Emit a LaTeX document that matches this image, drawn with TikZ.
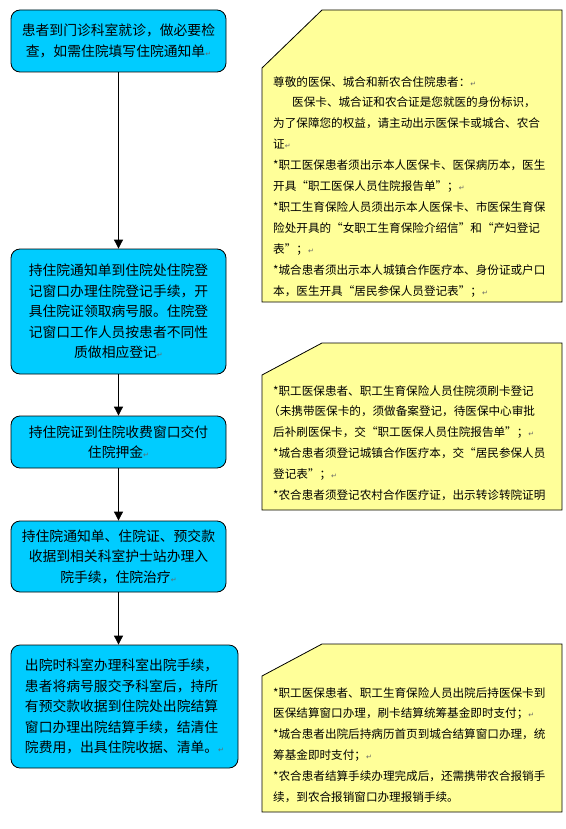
\documentclass[tikz,border=0pt]{standalone}
\usepackage{fontspec}
\setmainfont{Noto Sans CJK SC}
\newfontfamily\dejavu{DejaVu Sans}
\usetikzlibrary{arrows.meta}
\definecolor{boxcyan}{HTML}{00CCFF}
\definecolor{noteyellow}{HTML}{FFFF99}
\newcommand\retmark{{\dejavu\fontsize{7}{7}\selectfont\color{gray!80!black}↵}}
\begin{document}
\begin{tikzpicture}[x=1pt,y=-1pt,
  flowbox/.style={draw=black,line width=0.8pt,fill=boxcyan,rounded corners=9pt,minimum width=215pt,inner sep=0pt,align=center,font=\fontsize{13.8}{20.5}\selectfont},
  notebg/.style={draw=black,line width=0.8pt,fill=noteyellow},
  notetext/.style={anchor=north west,inner sep=0pt,align=left,font=\fontsize{11.6}{20.9}\selectfont},
  arr/.style={line width=0.8pt,-{Triangle[width=9pt,length=9pt]}}]
\useasboundingbox (0,0) rectangle (565,829);
% flow boxes
\node[flowbox,minimum height=62pt] (b1) at (118.5,41) {患者到门诊科室就诊，做必要检\\查，如需住院填写住院通知单\retmark};
\node[flowbox,minimum height=125pt] (b2) at (118.5,311.5) {持住院通知单到住院处住院登\\记窗口办理住院登记手续，开\\具住院证领取病号服。住院登\\记窗口工作人员按患者不同性\\质做相应登记\retmark};
\node[flowbox,minimum height=52pt] (b3) at (118.5,442) {持住院证到住院收费窗口交付\\住院押金\retmark};
\node[flowbox,minimum height=71pt] (b4) at (118.5,556.5) {持住院通知单、住院证、预交款\\收据到相关科室护士站办理入\\院手续，住院治疗\retmark};
\node[flowbox,minimum height=123pt,minimum width=227pt,align=left] (b5) at (124.5,706.5) {出院时科室办理科室出院手续，\\患者将病号服交予科室后，持所\\有预交款收据到住院处出院结算\\窗口办理出院结算手续，结清住\\院费用，出具住院收据、清单。\retmark};
% connectors
\draw[arr] (b1.south) -- (b2.north);
\draw[arr] (b2.south) -- (b3.north);
\draw[arr] (b3.south) -- (b4.north);
\draw[arr] (b4.south) -- (b4.south |- b5.north);
% notes
\draw[notebg] (262,68) -- (322,10) -- (562,10) -- (562,302) -- (262,302) -- cycle;
\node[notetext] (n1) at (273,76) {尊敬的医保、城合和新农合住院患者：\retmark\\%
\hspace*{19pt}医保卡、城合证和农合证是您就医的身份标识，\\%
为了保障您的权益，请主动出示医保卡或城合、农合\\%
证\retmark\\%
*职工医保患者须出示本人医保卡、医保病历本，医生\\%
开具“职工医保人员住院报告单”；\retmark\\%
*职工生育保险人员须出示本人医保卡、市医保生育保\\%
险处开具的“女职工生育保险介绍信”和“产妇登记\\%
表”；\retmark\\%
*城合患者须出示本人城镇合作医疗本、身份证或户口\\%
本，医生开具“居民参保人员登记表”；\retmark};
\draw[notebg] (262,375) -- (322,343) -- (562,343) -- (562,510) -- (262,510) -- cycle;
\node[notetext] (n2) at (273,385) {*职工医保患者、职工生育保险人员住院须刷卡登记\\%
\hspace*{-5pt}（未携带医保卡的，须做备案登记，待医保中心审批\\%
后补刷医保卡，交“职工医保人员住院报告单”；\retmark\\%
*城合患者须登记城镇合作医疗本，交“居民参保人员\\%
登记表”；\retmark\\%
*农合患者须登记农村合作医疗证，出示转诊转院证明};
\draw[notebg] (262,676) -- (322,644) -- (562,644) -- (562,812) -- (262,812) -- cycle;
\node[notetext] (n3) at (273,687) {*职工医保患者、职工生育保险人员出院后持医保卡到\\%
医保结算窗口办理，刷卡结算统筹基金即时支付；\retmark\\%
*城合患者出院后持病历首页到城合结算窗口办理，统\\%
筹基金即时支付；\retmark\\%
*农合患者结算手续办理完成后，还需携带农合报销手\\%
续，到农合报销窗口办理报销手续。};
\end{tikzpicture}
\end{document}
